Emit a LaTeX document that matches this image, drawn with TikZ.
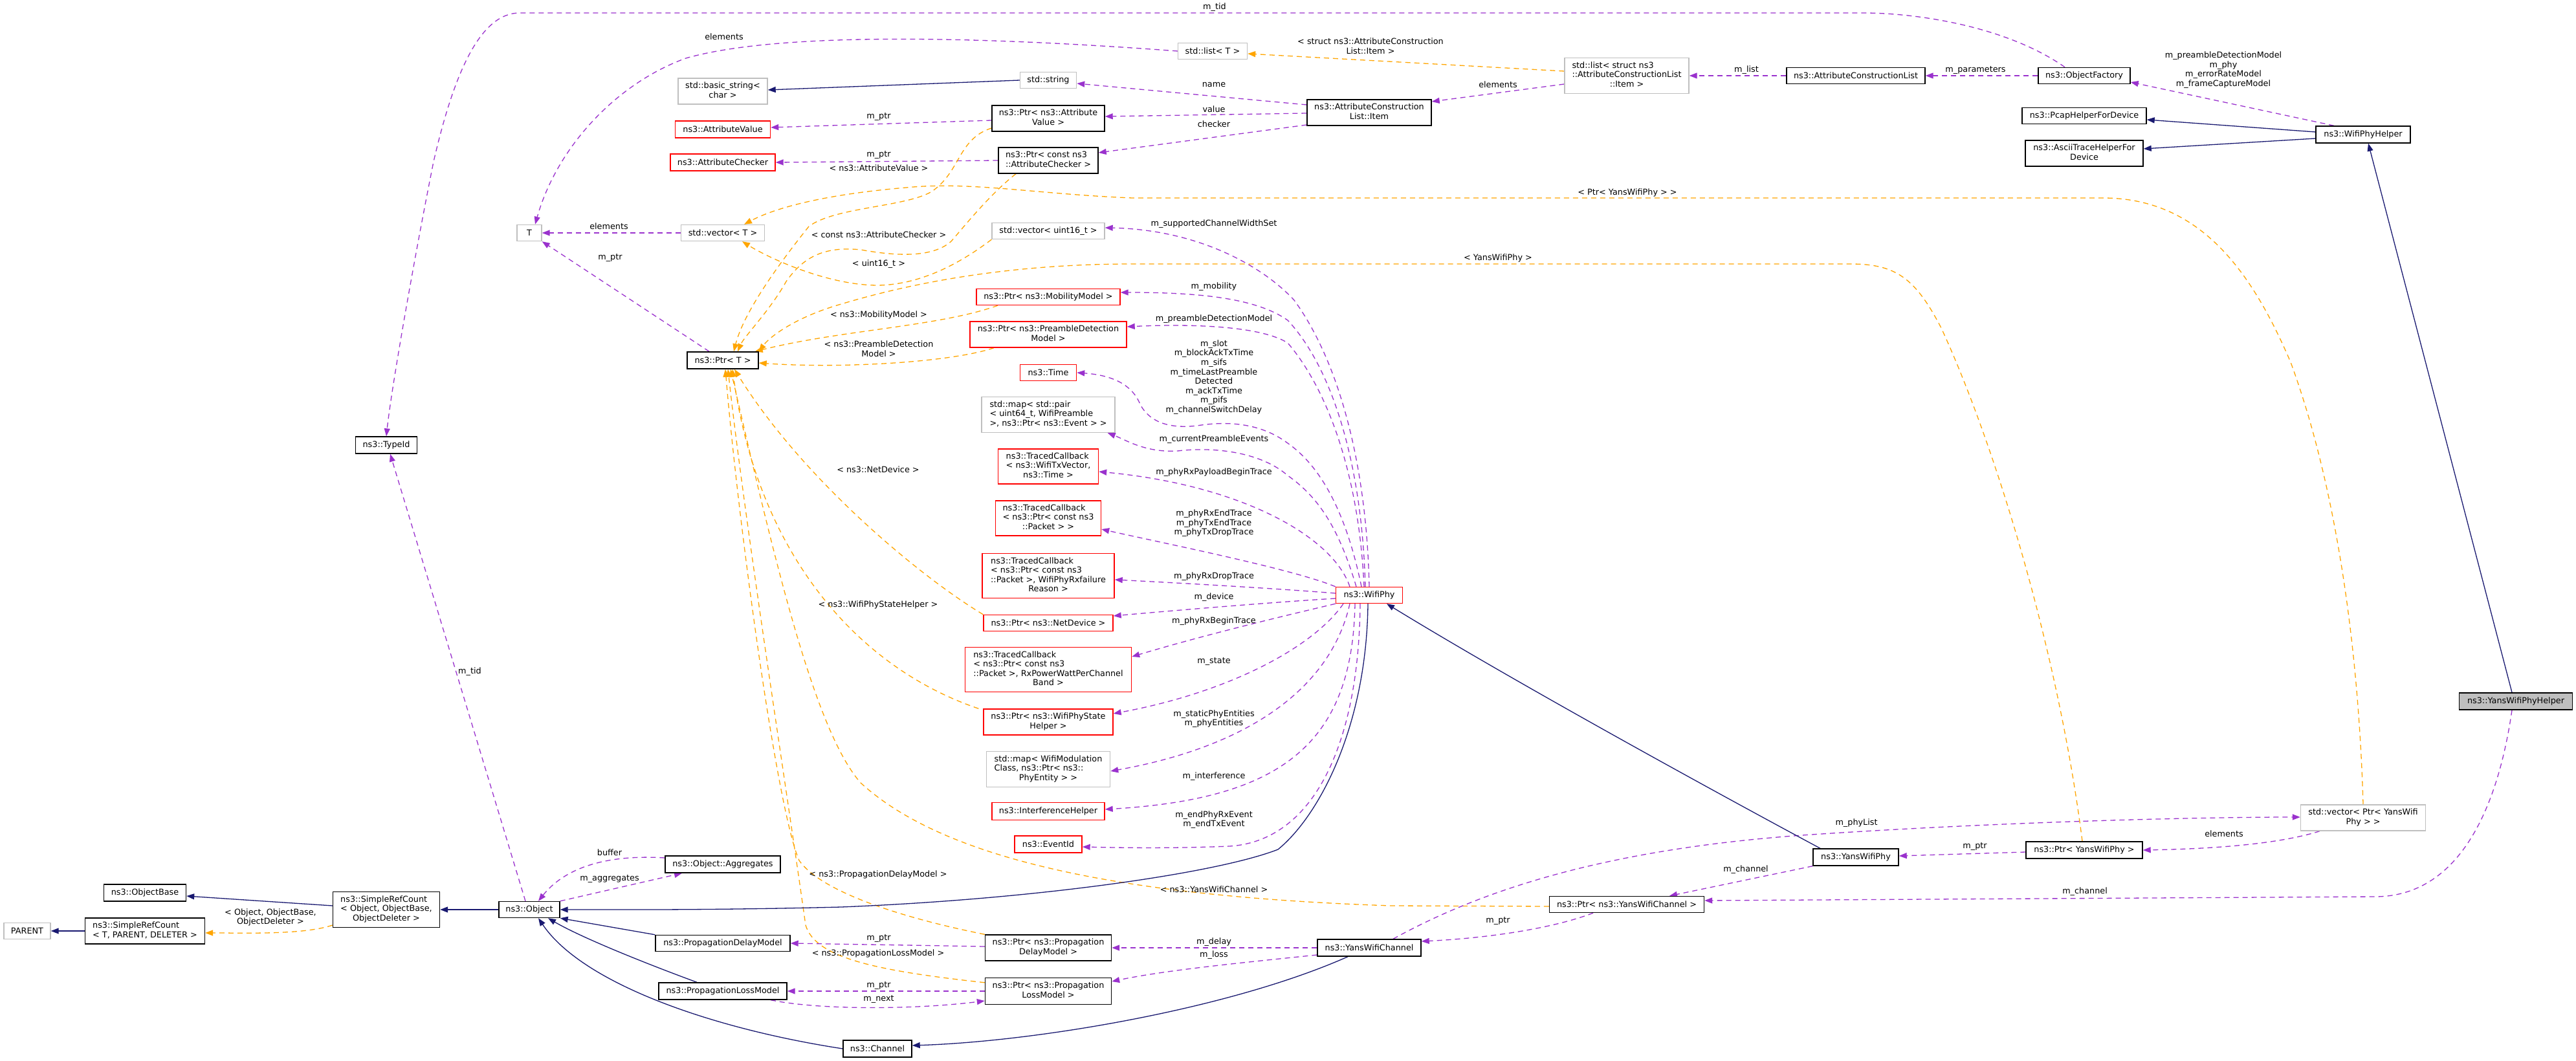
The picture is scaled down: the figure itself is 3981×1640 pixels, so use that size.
\documentclass[tikz,border=0pt]{standalone}
\usepackage{fontspec}
\setmainfont{DejaVu Sans}
\usetikzlibrary{arrows.meta,calc}
\definecolor{purp}{HTML}{9A32CD}
\definecolor{orng}{HTML}{FFA500}
\definecolor{navy}{HTML}{191970}
\definecolor{gbord}{HTML}{BFBFBF}
\definecolor{gfill}{HTML}{BFBFBF}
\newcommand{\dfont}{\fontsize{12.8}{14.6}\selectfont}
\newcommand{\mlt}[2]{\begin{tabular}{@{}l@{}}#1\\\multicolumn{1}{@{}c@{}}{#2}\end{tabular}}
\pgfdeclarelayer{bg}
\pgfsetlayers{bg,main}
\tikzset{
  nb/.style={draw=black, line width=1.4pt, fill=white, inner sep=0pt, font=\dfont},
  nr/.style={draw=red, line width=1.4pt, fill=white, inner sep=0pt, font=\dfont},
  ng/.style={draw=gbord, line width=1.4pt, fill=white, inner sep=0pt, font=\dfont},
  usee/.style={draw=purp, line width=1.3pt, dash pattern=on 8pt off 6pt, -{Triangle[length=12pt,width=9pt,fill=purp]}},
  tmpl/.style={draw=orng, line width=1.3pt, dash pattern=on 8pt off 6pt, -{Triangle[length=12pt,width=9pt,fill=orng]}},
  inh/.style={draw=navy, line width=1.3pt, -{Triangle[length=12pt,width=9pt,fill=navy]}},
  lbl/.style={inner sep=0pt, align=center, font=\dfont}
}
\begin{document}
\begin{tikzpicture}[x=1pt,y=-1pt]
\useasboundingbox (0,0) rectangle (3981,1640);
% ---------------- nodes
\node[ng, minimum width=38pt, minimum height=25pt] (T) at (818,360) {T};
\node[nb, minimum width=95pt, minimum height=26pt] (TypeId) at (597,688) {ns3::TypeId};
\node[ng, minimum width=107pt, minimum height=25pt] (stdlistT) at (1874,79) {std::list< T >};
\node[ng, minimum width=87pt, minimum height=25pt] (stdstring) at (1620,124) {std::string};
\node[ng, minimum width=138pt, minimum height=40pt] (basicstring) at (1117,141) {\mlt{std::basic\_string<}{char >}};
\node[nb, minimum width=174pt, minimum height=40pt] (PtrAV) at (1620,183) {\mlt{ns3::Ptr< ns3::Attribute}{Value >}};
\node[nr, minimum width=147pt, minimum height=26pt] (AV) at (1117,200) {ns3::AttributeValue};
\node[nr, minimum width=162pt, minimum height=26pt] (AC) at (1117,251) {ns3::AttributeChecker};
\node[nb, minimum width=154pt, minimum height=40pt] (PtrAC) at (1620,248) {\mlt{ns3::Ptr< const ns3}{::AttributeChecker >}};
\node[ng, minimum width=129pt, minimum height=25pt] (vectorT) at (1117,360) {std::vector< T >};
\node[ng, minimum width=174pt, minimum height=25pt] (vectorU16) at (1620,357) {std::vector< uint16\_t >};
\node[nr, minimum width=222pt, minimum height=25pt] (PtrMM) at (1620,459) {ns3::Ptr< ns3::MobilityModel >};
\node[nr, minimum width=242pt, minimum height=40pt] (PtrPDM) at (1620,517) {\mlt{ns3::Ptr< ns3::PreambleDetection}{Model >}};
\node[nb, minimum width=110pt, minimum height=26pt] (PtrT) at (1117,557) {ns3::Ptr< T >};
\node[nr, minimum width=87pt, minimum height=25pt] (Time) at (1620,576) {ns3::Time};
\node[ng, minimum width=206pt, minimum height=55pt] (mapPair) at (1620,641) {\mlt{std::map< std::pair\\< uint64\_t, WifiPreamble}{>, ns3::Ptr< ns3::Event > >}};
\node[nr, minimum width=155pt, minimum height=54pt] (TCtx) at (1620,721) {\mlt{ns3::TracedCallback\\< ns3::WifiTxVector,}{ns3::Time >}};
\node[nr, minimum width=163pt, minimum height=54pt] (TCpkt) at (1620,801) {\mlt{ns3::TracedCallback\\< ns3::Ptr< const ns3}{::Packet > >}};
\node[nr, minimum width=204pt, minimum height=69pt] (TCfail) at (1620,890) {\mlt{ns3::TracedCallback\\< ns3::Ptr< const ns3\\::Packet >, WifiPhyRxfailure}{Reason >}};
\node[nr, minimum width=200pt, minimum height=25pt] (PtrND) at (1620,963) {ns3::Ptr< ns3::NetDevice >};
\node[nr, minimum width=257pt, minimum height=69pt] (TCrx) at (1620,1035) {\mlt{ns3::TracedCallback\\< ns3::Ptr< const ns3\\::Packet >, RxPowerWattPerChannel}{Band >}};
\node[nr, minimum width=200pt, minimum height=40pt] (PtrWPSH) at (1620,1116) {\mlt{ns3::Ptr< ns3::WifiPhyState}{Helper >}};
\node[ng, minimum width=191pt, minimum height=55pt] (mapMod) at (1620,1189) {\mlt{std::map< WifiModulation\\Class, ns3::Ptr< ns3::}{PhyEntity > >}};
\node[nr, minimum width=174pt, minimum height=27pt] (IH) at (1620,1254) {ns3::InterferenceHelper};
\node[nr, minimum width=104pt, minimum height=26pt] (EventId) at (1620,1305) {ns3::EventId};
\node[nb, minimum width=178pt, minimum height=26pt] (Aggregates) at (1117,1336) {ns3::Object::Aggregates};
\node[nb, minimum width=208pt, minimum height=25pt] (PDelM) at (1117,1458) {ns3::PropagationDelayModel};
\node[nb, minimum width=195pt, minimum height=40pt] (PtrPDel) at (1620,1465) {\mlt{ns3::Ptr< ns3::Propagation}{DelayModel >}};
\node[nb, minimum width=198pt, minimum height=26pt] (PLossM) at (1117,1532) {ns3::PropagationLossModel};
\node[nb, minimum width=195pt, minimum height=41pt] (PtrPLoss) at (1620,1532) {\mlt{ns3::Ptr< ns3::Propagation}{LossModel >}};
\node[nb, minimum width=106pt, minimum height=26pt] (Channel) at (1356,1621) {ns3::Channel};
\node[ng, minimum width=72pt, minimum height=25pt] (PARENT) at (42,1439) {PARENT};
\node[nb, minimum width=185pt, minimum height=40pt] (SRCT) at (224,1439) {\mlt{ns3::SimpleRefCount}{< T, PARENT, DELETER >}};
\node[nb, minimum width=127pt, minimum height=26pt] (ObjectBase) at (224,1380) {ns3::ObjectBase};
\node[nb, minimum width=165pt, minimum height=55pt] (SRCObj) at (597,1406) {\mlt{ns3::SimpleRefCount\\< Object, ObjectBase,}{ObjectDeleter >}};
\node[nb, minimum width=94pt, minimum height=25pt] (Object) at (818,1406) {ns3::Object};
\node[nb, minimum width=192pt, minimum height=40pt] (Item) at (2116,174) {\mlt{ns3::AttributeConstruction}{List::Item}};
\node[ng, minimum width=192pt, minimum height=55pt] (listStruct) at (2514,117) {\mlt{std::list< struct ns3\\::AttributeConstructionList}{::Item >}};
\node[nb, minimum width=214pt, minimum height=25pt] (ACL) at (2868,117) {ns3::AttributeConstructionList};
\node[nb, minimum width=142pt, minimum height=25pt] (OF) at (3221,117) {ns3::ObjectFactory};
\node[nb, minimum width=192pt, minimum height=25pt] (Pcap) at (3221,179) {ns3::PcapHelperForDevice};
\node[nb, minimum width=182pt, minimum height=40pt] (Ascii) at (3221,237) {\mlt{ns3::AsciiTraceHelperFor}{Device}};
\node[nb, minimum width=146pt, minimum height=26pt] (WPH) at (3652,208) {ns3::WifiPhyHelper};
\node[nb, fill=gfill, minimum width=175pt, minimum height=26pt] (YWPH) at (3888,1084) {ns3::YansWifiPhyHelper};
\node[nr, minimum width=103pt, minimum height=25pt] (WifiPhy) at (2116,920) {ns3::WifiPhy};
\node[nb, minimum width=132pt, minimum height=26pt] (YWP) at (2868,1325) {ns3::YansWifiPhy};
\node[nb, minimum width=239pt, minimum height=25pt] (PtrYWC) at (2514,1398) {ns3::Ptr< ns3::YansWifiChannel >};
\node[nb, minimum width=160pt, minimum height=26pt] (YWC) at (2116,1465) {ns3::YansWifiChannel};
\node[ng, minimum width=193pt, minimum height=40pt] (vecPtrYWP) at (3652,1264) {\mlt{std::vector< Ptr< YansWifi}{Phy > >}};
\node[nb, minimum width=180pt, minimum height=26pt] (PtrYWP) at (3221,1314) {ns3::Ptr< YansWifiPhy >};
% ---------------- edges
\begin{pgfonlayer}{bg}
% m_tid from ObjectFactory
\draw[usee] ([xshift=-30pt]OF.north) .. controls (3100,40) and (2960,20) .. (2880,20) -- (803,20) .. controls (740,20) and (700,120) .. (670,250) .. controls (640,400) and (605,600) .. (TypeId.north);
\draw[usee] ([xshift=-6pt]Object.north) -- ([xshift=6pt]TypeId.south);
\draw[usee] (stdlistT.west) .. controls (1500,55) and (1200,50) .. (1060,90) .. controls (950,130) and (860,230) .. ([xshift=9pt]T.north);
\draw[usee] (vectorT.west) -- (T.east);
\draw[usee] ([xshift=-21pt]PtrT.north) -- (T.south east);
\draw[tmpl] ([yshift=7pt]listStruct.west) -- ([yshift=-4pt]stdlistT.east);
\draw[inh] (stdstring.west) -- ([yshift=2pt]basicstring.east);
\draw[usee] ([yshift=12pt]Item.west) -- ([yshift=-5pt]stdstring.east);
\draw[usee] ([yshift=-1pt]Item.west) -- ([yshift=3pt]PtrAV.east);
\draw[usee] ([yshift=-19pt]Item.west) -- ([yshift=12pt]PtrAC.east);
\draw[usee] ([yshift=-13pt]listStruct.west) -- ([yshift=17pt]Item.east);
\draw[usee] (ACL.west) -- (listStruct.east);
\draw[usee] (OF.west) -- (ACL.east);
\draw[usee] ([xshift=-45pt]WPH.north) -- ([yshift=-10pt]OF.east);
\draw[inh] ([yshift=4pt]WPH.west) -- ([yshift=-6pt]Pcap.east);
\draw[inh] ([yshift=-6pt]WPH.west) -- ([yshift=7pt]Ascii.east);
\draw[inh] ([xshift=-6pt]YWPH.north) -- ([xshift=8pt]WPH.south);
\draw[usee] ([yshift=-3pt]PtrAV.west) -- ([yshift=3pt]AV.east);
\draw[usee] (PtrAC.west) -- (AC.east);
\draw[tmpl] ([yshift=-15pt]PtrAV.west) .. controls (1480,215) and (1485,265) .. (1440,296) .. controls (1400,320) and (1290,320) .. (1250,350) .. controls (1210,400) and (1150,480) .. ([xshift=17pt]PtrT.north);
\draw[tmpl] ([xshift=-50pt]PtrAC.south) .. controls (1530,300) and (1490,350) .. (1470,373) .. controls (1440,400) and (1380,395) .. (1330,386) .. controls (1270,380) and (1240,400) .. (1215,435) .. controls (1190,480) and (1150,520) .. ([xshift=23pt]PtrT.north);
\draw[tmpl] (vectorU16.south west) .. controls (1480,410) and (1420,440) .. (1357,441) .. controls (1280,441) and (1190,400) .. ([xshift=30pt]vectorT.south);
\draw[tmpl] (vecPtrYWP.north) .. controls (3645,1000) and (3610,750) .. (3540,560) .. controls (3480,420) and (3400,306) .. (3250,306) -- (1750,306) .. controls (1600,300) and (1500,280) .. (1400,290) .. controls (1280,300) and (1200,320) .. ([xshift=33pt]vectorT.north);
\draw[tmpl] ([xshift=-78pt]PtrMM.south) .. controls (1450,505) and (1300,510) .. ([xshift=-6pt]PtrT.north east);
\draw[tmpl] ([xshift=-84pt]PtrPDM.south) .. controls (1470,560) and (1300,570) .. ([yshift=-4pt]PtrT.east);
\draw[tmpl] ([xshift=-3pt]PtrYWP.north) .. controls (3180,1000) and (3080,680) .. (3000,507) .. controls (2960,430) and (2930,408) .. (2860,408) -- (1750,408) .. controls (1550,408) and (1400,440) .. (1300,470) .. controls (1230,490) and (1190,520) .. (PtrT.north east);
\draw[tmpl] (PtrND.north west) .. controls (1420,890) and (1240,740) .. ([xshift=18pt]PtrT.south);
\draw[tmpl] ([xshift=-7pt]PtrWPSH.north west) .. controls (1320,1030) and (1170,850) .. ([xshift=15pt]PtrT.south);
\draw[tmpl] ([yshift=-3pt]PtrYWC.west) -- (2150,1400) .. controls (1700,1385) and (1450,1320) .. (1330,1210) .. controls (1260,1130) and (1200,880) .. ([xshift=12pt]PtrT.south);
\draw[tmpl] (PtrPDel.north west) .. controls (1400,1420) and (1270,1380) .. (1235,1330) .. controls (1200,1250) and (1140,800) .. ([xshift=4pt]PtrT.south);
\draw[tmpl] ([yshift=-8pt]PtrPLoss.north west) .. controls (1350,1500) and (1260,1480) .. (1245,1430) .. controls (1220,1250) and (1150,800) .. ([xshift=8pt]PtrT.south);
\draw[usee] ([yshift=10pt]Aggregates.west) .. controls (930,1320) and (870,1345) .. ([xshift=14pt]Object.north);
\draw[usee] (Object.north east) -- ([xshift=-63pt]Aggregates.south);
\draw[inh] (Object.west) -- (SRCObj.east);
\draw[inh] ([yshift=6pt]SRCObj.west) -- ([yshift=-5pt]ObjectBase.east);
\draw[tmpl] ([yshift=-24pt]SRCObj.west) .. controls (470,1445) and (380,1442) .. ([yshift=-3pt]SRCT.east);
\draw[inh] (SRCT.west) -- (PARENT.east);
\draw[inh] ([xshift=-2pt]WifiPhy.south) .. controls (2112,1120) and (2040,1260) .. (1975,1313) .. controls (1880,1350) and (1600,1390) .. (1300,1402) .. controls (1100,1407) and (950,1406) .. (Object.east);
\draw[inh] (PDelM.north west) -- (Object.south east);
\draw[inh] ([xshift=-40pt]PLossM.north) .. controls (1000,1490) and (900,1450) .. ([xshift=29pt]Object.south);
\draw[inh] (Channel.west) .. controls (1100,1590) and (900,1520) .. ([xshift=14pt]Object.south);
\draw[inh] ([xshift=-33pt]YWC.south) .. controls (1900,1560) and (1600,1610) .. ([yshift=5pt]Channel.east);
\draw[usee] ([yshift=2pt]PtrPDel.west) -- (PDelM.east);
\draw[usee] (PtrPLoss.west) -- (PLossM.east);
\draw[usee] ([xshift=74pt]PLossM.south) .. controls (1270,1562) and (1420,1560) .. ([yshift=-15pt]PtrPLoss.west);
\draw[usee] (YWC.west) -- (PtrPDel.east);
\draw[usee] ([yshift=-11pt]YWC.west) .. controls (1900,1490) and (1800,1500) .. ([yshift=15pt]PtrPLoss.east);
\draw[usee] (YWP.south west) -- ([xshift=66pt]PtrYWC.north);
\draw[usee] ([xshift=-52pt]PtrYWC.south) .. controls (2400,1435) and (2300,1450) .. ([yshift=10pt]YWC.east);
\draw[usee] ([xshift=37pt]YWC.north) .. controls (2300,1370) and (2500,1310) .. (2800,1290) .. controls (3100,1270) and (3400,1263) .. ([yshift=1pt]vecPtrYWP.west);
\draw[usee] ([yshift=-3pt]PtrYWP.west) -- ([yshift=2pt]YWP.east);
\draw[usee] ([xshift=-67pt]vecPtrYWP.south) .. controls (3520,1305) and (3420,1312) .. (PtrYWP.east);
\draw[usee] ([xshift=-6pt]YWPH.south) .. controls (3860,1250) and (3800,1386) .. (3670,1386) -- ([yshift=6pt]PtrYWC.east);
\draw[inh] ([xshift=-55pt]YWP.north) .. controls (2680,1240) and (2350,1060) .. ([xshift=27pt]WifiPhy.south);
% WifiPhy members
\draw[usee] (WifiPhy.north) .. controls (2112,720) and (2070,560) .. (2000,464) .. controls (1950,410) and (1850,355) .. ([yshift=5pt]vectorU16.east);
\draw[usee] ([xshift=-6pt]WifiPhy.north) .. controls (2105,720) and (2060,570) .. (1990,495) .. controls (1940,460) and (1850,452) .. ([yshift=7pt]PtrMM.east);
\draw[usee] ([xshift=-8pt]WifiPhy.north) .. controls (2100,730) and (2050,600) .. (1990,530) .. controls (1950,505) and (1850,500) .. ([yshift=12pt]PtrPDM.east);
\draw[usee] ([xshift=-12pt]WifiPhy.north) .. controls (2080,790) and (2040,720) .. (1990,685) .. controls (1950,655) and (1900,650) .. (1850,658) .. controls (1790,665) and (1770,640) .. (1762,625) .. controls (1750,595) and (1720,580) .. (Time.east);
\draw[usee] ([xshift=-20pt]WifiPhy.north) .. controls (2070,820) and (2040,770) .. (1990,735) .. controls (1950,700) and (1880,690) .. (1820,697) .. controls (1770,700) and (1740,680) .. ([xshift=-12pt]mapPair.south east);
\draw[usee] ([xshift=-30pt]WifiPhy.north) .. controls (2060,830) and (1920,750) .. ([yshift=-8pt]TCtx.east);
\draw[usee] (WifiPhy.north west) .. controls (2000,880) and (1800,840) .. ([yshift=-17pt]TCpkt.east);
\draw[usee] ([yshift=3pt]WifiPhy.west) .. controls (1950,908) and (1800,900) .. ([yshift=-6pt]TCfail.east);
\draw[usee] ([yshift=-5pt]WifiPhy.west) .. controls (1950,932) and (1800,945) .. ([yshift=11pt]PtrND.east);
\draw[usee] (WifiPhy.south west) .. controls (1950,960) and (1850,985) .. ([yshift=20pt]TCrx.east);
\draw[usee] ([xshift=-40pt]WifiPhy.south) .. controls (2030,1000) and (1900,1070) .. ([yshift=13pt]PtrWPSH.east);
\draw[usee] ([xshift=-30pt]WifiPhy.south) .. controls (2060,1050) and (1950,1150) .. ([yshift=-3pt]mapMod.east);
\draw[usee] ([xshift=-22pt]WifiPhy.south) .. controls (2090,1150) and (1980,1235) .. ([yshift=3pt]IH.east);
\draw[usee] ([xshift=-14pt]WifiPhy.south) .. controls (2100,1150) and (2030,1300) .. (1900,1308) .. controls (1800,1312) and (1720,1310) .. ([yshift=-4pt]EventId.east);
\end{pgfonlayer}
% ---------------- labels
\node[lbl] (l1) at (1877,11) {m\_tid};
\node[lbl, anchor=west] (l2) at (708,1038) {m\_tid};
\node[lbl] (l3) at (1119,57) {elements};
\node[lbl] (l4) at (941,350) {elements};
\node[lbl] (l5) at (943,399) {m\_ptr};
\node[lbl] (l6) at (2118,71) {< struct ns3::AttributeConstruction\\List::Item >};
\node[lbl] (l7) at (1876,131) {name};
\node[lbl] (l8) at (1876,169) {value};
\node[lbl] (l9) at (1876,192) {checker};
\node[lbl] (l10) at (2315,131) {elements};
\node[lbl] (l11) at (2699,108) {m\_list};
\node[lbl] (l12) at (3053,109) {m\_parameters};
\node[lbl] (l13) at (3436,108) {m\_preambleDetectionModel\\m\_phy\\m\_errorRateModel\\m\_frameCaptureModel};
\node[lbl] (l14) at (1358,181) {m\_ptr};
\node[lbl] (l15) at (1358,240) {m\_ptr};
\node[lbl] (l16) at (1358,260) {< ns3::AttributeValue >};
\node[lbl] (l17) at (1358,363) {< const ns3::AttributeChecker >};
\node[lbl] (l18) at (1358,408) {< uint16\_t >};
\node[lbl] (l19) at (2515,298) {< Ptr< YansWifiPhy > >};
\node[lbl] (l20) at (2315,399) {< YansWifiPhy >};
\node[lbl] (l21) at (1876,346) {m\_supportedChannelWidthSet};
\node[lbl] (l22) at (1876,443) {m\_mobility};
\node[lbl] (l23) at (1876,493) {m\_preambleDetectionModel};
\node[lbl] (l24) at (1358,487) {< ns3::MobilityModel >};
\node[lbl] (l25) at (1358,539) {< ns3::PreambleDetection\\Model >};
\node[lbl] (l26) at (1876,583) {m\_slot\\m\_blockAckTxTime\\m\_sifs\\m\_timeLastPreamble\\Detected\\m\_ackTxTime\\m\_pifs\\m\_channelSwitchDelay};
\node[lbl] (l27) at (1876,679) {m\_currentPreambleEvents};
\node[lbl] (l28) at (1876,730) {m\_phyRxPayloadBeginTrace};
\node[lbl] (l29) at (1876,809) {m\_phyRxEndTrace\\m\_phyTxEndTrace\\m\_phyTxDropTrace};
\node[lbl] (l30) at (1876,891) {m\_phyRxDropTrace};
\node[lbl] (l31) at (1876,923) {m\_device};
\node[lbl] (l32) at (1876,960) {m\_phyRxBeginTrace};
\node[lbl] (l33) at (1876,1023) {m\_state};
\node[lbl] (l34) at (1357,726) {< ns3::NetDevice >};
\node[lbl] (l35) at (1357,935) {< ns3::WifiPhyStateHelper >};
\node[lbl] (l36) at (1876,1111) {m\_staticPhyEntities\\m\_phyEntities};
\node[lbl] (l37) at (1876,1200) {m\_interference};
\node[lbl] (l38) at (1876,1267) {m\_endPhyRxEvent\\m\_endTxEvent};
\node[lbl] (l39) at (1357,1352) {< ns3::PropagationDelayModel >};
\node[lbl] (l40) at (1876,1375) {< ns3::YansWifiChannel >};
\node[lbl] (l41) at (1358,1451) {m\_ptr};
\node[lbl] (l42) at (1357,1474) {< ns3::PropagationLossModel >};
\node[lbl] (l43) at (1876,1456) {m\_delay};
\node[lbl] (l44) at (1876,1476) {m\_loss};
\node[lbl] (l45) at (1358,1524) {m\_ptr};
\node[lbl] (l46) at (1358,1544) {m\_next};
\node[lbl] (l47) at (942,1318) {buffer};
\node[lbl] (l48) at (942,1359) {m\_aggregates};
\node[lbl] (l49) at (418,1418) {< Object, ObjectBase,\\ObjectDeleter >};
\node[lbl] (l50) at (2869,1272) {m\_phyList};
\node[lbl] (l51) at (2698,1344) {m\_channel};
\node[lbl] (l52) at (2315,1424) {m\_ptr};
\node[lbl] (l53) at (3052,1309) {m\_ptr};
\node[lbl] (l54) at (3437,1289) {elements};
\node[lbl] (l55) at (3222,1378) {m\_channel};
\end{tikzpicture}
\end{document}
